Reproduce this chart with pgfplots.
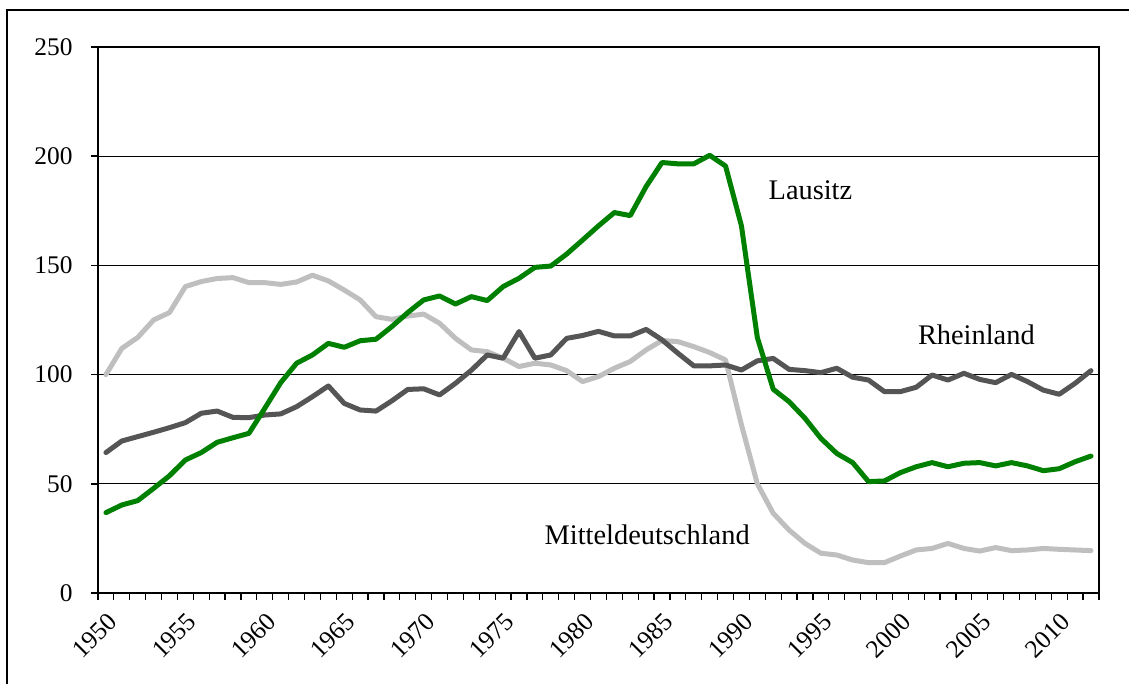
\documentclass[border=0pt]{standalone}
\usepackage{pgfplots}
\pgfplotsset{compat=1.18}
\usepackage{fontspec}
\setmainfont{Liberation Serif}
\definecolor{lgreen}{RGB}{0,128,0}
\definecolor{dgrey}{RGB}{85,85,85}
\definecolor{lgrey}{RGB}{191,191,191}
\begin{document}
\begin{tikzpicture}
\useasboundingbox (0bp,0bp) rectangle (1129bp,684bp);
\draw[line width=2bp] (7bp,-10bp) -- (7bp,674bp) -- (1140bp,674bp);
\begin{axis}[
  at={(98bp,91bp)}, anchor=south west,
  width=1001bp, height=546bp, scale only axis,
  xmin=1949.5, xmax=2012.5, ymin=0, ymax=250,
  ytick={0,50,...,250},
  xtick={1950,1955,...,2010},
  minor xtick={1949.5,1950.5,...,2012.5},
  tick pos=left, tick align=outside,
  major x tick style={draw=none},
  minor x tick style={draw=black, line width=1.2bp},
  minor tick length=7bp,
  ytick style={black, line width=1.5bp},
  major tick length=7bp,
  ymajorgrids, grid style={black, line width=0.9bp},
  axis line style={black, line width=1.8bp},
  /pgf/number format/assume math mode=true,
  /pgf/number format/1000 sep={},
  ticklabel style={font=\fontsize{25.5}{30}\selectfont},
  xticklabel style={rotate=45, anchor=east, xshift=-4bp, yshift=-17bp},
  yticklabel style={xshift=-15bp},
  every axis plot/.append style={line width=5bp, line join=round, line cap=round, mark=none},
  clip=false,
]
\addplot[lgrey] coordinates {
(1950,100) (1951,112) (1952,117) (1953,125) (1954,128.4) (1955,140.3) (1956,142.6) (1957,144) (1958,144.4) (1959,142.1)
(1960,142.1) (1961,141.3) (1962,142.4) (1963,145.5) (1964,142.9) (1965,138.7) (1966,134.2) (1967,126.5) (1968,125.3) (1969,126.8)
(1970,127.7) (1971,123.5) (1972,116.6) (1973,111.3) (1974,110.5) (1975,107.5) (1976,103.7) (1977,105.2) (1978,104.4) (1979,101.8)
(1980,96.8) (1981,99.1) (1982,102.9) (1983,106) (1984,111.3) (1985,115.6) (1986,115.1) (1987,112.8) (1988,110.1) (1989,106.7)
(1990,77) (1991,50) (1992,36.5) (1993,28.8) (1994,22.7) (1995,18.2) (1996,17.4) (1997,15.1) (1998,13.9) (1999,13.9)
(2000,16.9) (2001,19.7) (2002,20.4) (2003,22.7) (2004,20.4) (2005,19.2) (2006,20.8) (2007,19.4) (2008,19.7) (2009,20.4)
(2010,20) (2011,19.7) (2012,19.4)
};
\addplot[dgrey] coordinates {
(1950,64.3) (1951,69.6) (1952,71.6) (1953,73.6) (1954,75.7) (1955,78) (1956,82.3) (1957,83.3) (1958,80.4) (1959,80.3)
(1960,81.5) (1961,82) (1962,85.3) (1963,89.9) (1964,94.8) (1965,86.8) (1966,83.8) (1967,83.3) (1968,88) (1969,93.2)
(1970,93.5) (1971,90.7) (1972,96) (1973,102) (1974,109) (1975,107.5) (1976,119.7) (1977,107.5) (1978,109) (1979,116.6)
(1980,117.9) (1981,119.8) (1982,117.7) (1983,117.7) (1984,120.7) (1985,115.9) (1986,109.8) (1987,104) (1988,104) (1989,104.4)
(1990,102.1) (1991,106.3) (1992,107.4) (1993,102.4) (1994,101.8) (1995,100.9) (1996,102.9) (1997,98.8) (1998,97.5) (1999,92.2)
(2000,92.2) (2001,94.2) (2002,99.8) (2003,97.5) (2004,100.6) (2005,97.8) (2006,96.3) (2007,100.1) (2008,96.8) (2009,92.9)
(2010,91) (2011,96) (2012,101.8)
};
\addplot[lgreen] coordinates {
(1950,36.8) (1951,40.3) (1952,42.3) (1953,47.9) (1954,53.7) (1955,60.9) (1956,64.3) (1957,69) (1958,71.1) (1959,73.1)
(1960,84.6) (1961,96.3) (1962,105.2) (1963,109) (1964,114.3) (1965,112.5) (1966,115.5) (1967,116.2) (1968,122) (1969,128.4)
(1970,134.2) (1971,136) (1972,132.3) (1973,135.7) (1974,133.9) (1975,140.3) (1976,144.1) (1977,149.1) (1978,149.7) (1979,155.2)
(1980,161.6) (1981,168.1) (1982,174.2) (1983,172.8) (1984,186.1) (1985,197.1) (1986,196.5) (1987,196.5) (1988,200.4) (1989,195.5)
(1990,168.1) (1991,117) (1992,93.3) (1993,87.6) (1994,80) (1995,70.8) (1996,63.9) (1997,59.7) (1998,51) (1999,51.3)
(2000,55.1) (2001,57.8) (2002,59.7) (2003,57.8) (2004,59.4) (2005,59.7) (2006,58.2) (2007,59.7) (2008,58.2) (2009,56)
(2010,56.9) (2011,60.1) (2012,62.7)
};
\node[anchor=base west, inner sep=0pt, font=\fontsize{28.5}{34}\selectfont] at (axis cs:1991.7,180.4) {Lausitz};
\node[anchor=base west, inner sep=0pt, font=\fontsize{28.5}{34}\selectfont] at (axis cs:2001.1,113.8) {Rheinland};
\node[anchor=base west, inner sep=0pt, font=\fontsize{28.5}{34}\selectfont] at (axis cs:1977.6,22) {Mitteldeutschland};
\end{axis}
\end{tikzpicture}
\end{document}
